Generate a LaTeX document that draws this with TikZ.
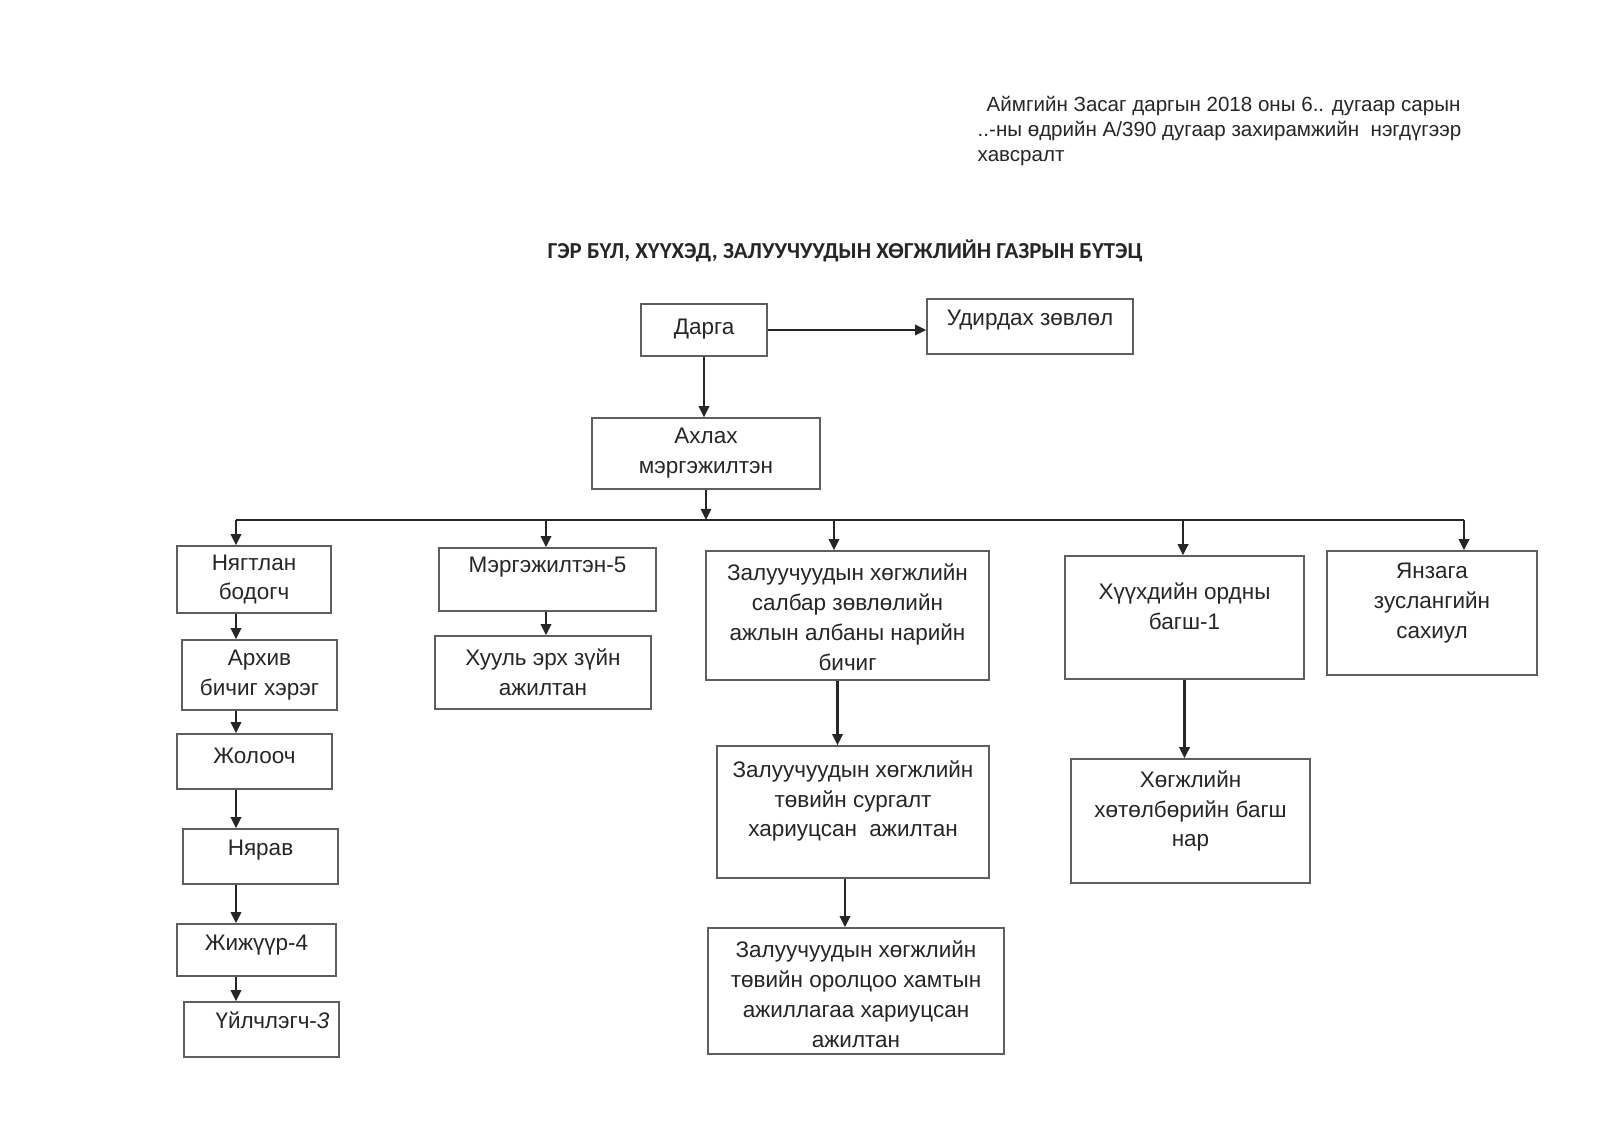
\documentclass[tikz,border=0pt]{standalone}
\usepackage{fontspec}
\setmainfont{Liberation Sans}
\newfontfamily\titlefont{Carlito}
\usepackage{xcolor}
\usetikzlibrary{arrows.meta}
\definecolor{inkgray}{HTML}{262626}
\definecolor{framegray}{HTML}{5E5E5E}
\tikzset{
    box/.style={draw=framegray, line width=0.4pt, inner sep=0pt},
    lbl/.style={align=center, text=inkgray, inner sep=0pt, font=\fontsize{6.4}{8.5}\selectfont},
    note/.style={text=inkgray, inner sep=0pt, font=\fontsize{5.85}{7.1}\selectfont},
    heading/.style={text=inkgray, inner sep=0pt, font=\titlefont\bfseries\fontsize{6.5}{7.5}\selectfont},
    link/.style={draw=inkgray, line width=0.6pt}
}

\begin{document}
\begin{tikzpicture}[>={Triangle[length=3.2pt,width=3pt]}]
    \useasboundingbox[fill=white] (0,0) rectangle (16,-11.44);

    % Header note
    \node[note, anchor=base west] (note1) at (9.86,-1.12) {Аймгийн Засаг даргын 2018 оны 6.. дугаар сарын};
    \node[note, anchor=base west] (note2) at (9.77,-1.37) {..-ны өдрийн А/390 дугаар захирамжийн\ \ нэгдүгээр};
    \node[note, anchor=base west] (note3) at (9.77,-1.62) {хавсралт};

    % Title
    \node[heading] (title) at (8.45,-2.51) {ГЭР БҮЛ, ХҮҮХЭД, ЗАЛУУЧУУДЫН ХӨГЖЛИЙН ГАЗРЫН БҮТЭЦ};

    % Top level
    \node[box, minimum width=1.26cm, minimum height=0.52cm] (darga) at (7.04,-3.30) {};
    \node[lbl, yshift=0.01cm] (dargat) at (darga) {Дарга};
    \node[box, minimum width=2.06cm, minimum height=0.55cm] (udirdah) at (10.30,-3.265) {};
    \node[lbl, yshift=0.06cm] (udirdaht) at (udirdah) {Удирдах зөвлөл};
    \node[box, minimum width=2.28cm, minimum height=0.71cm] (ahlah) at (7.06,-4.535) {};
    \node[lbl] (ahlaht) at (ahlah) {Ахлах\\мэргэжилтэн};

    % Left column
    \node[box, minimum width=1.54cm, minimum height=0.67cm] (nyagtlan) at (2.54,-5.795) {};
    \node[lbl] (nyagtlant) at (nyagtlan) {Нягтлан\\бодогч};
    \node[box, minimum width=1.55cm, minimum height=0.70cm] (arhiv) at (2.595,-6.75) {};
    \node[lbl] (arhivt) at (arhiv) {Архив\\бичиг хэрэг};
    \node[box, minimum width=1.55cm, minimum height=0.55cm] (joloo) at (2.545,-7.615) {};
    \node[lbl, yshift=0.06cm] (joloot) at (joloo) {Жолооч};
    \node[box, minimum width=1.55cm, minimum height=0.55cm] (nyarav) at (2.605,-8.565) {};
    \node[lbl, yshift=0.06cm] (nyaravt) at (nyarav) {Нярав};
    \node[box, minimum width=1.59cm, minimum height=0.52cm] (jijuur) at (2.565,-9.50) {};
    \node[lbl, yshift=0.05cm] (jijuurt) at (jijuur) {Жижүүр-4};
    \node[box, minimum width=1.55cm, minimum height=0.55cm] (uilchlegch) at (2.615,-10.295) {};
    \node[lbl, xshift=0.11cm, yshift=0.09cm] (uilchlegcht) at (uilchlegch) {Үйлчлэгч-\textit{3}};

    % Second column
    \node[box, minimum width=2.17cm, minimum height=0.63cm] (mergejilten) at (5.475,-5.795) {};
    \node[lbl, yshift=0.12cm] (mergejiltent) at (mergejilten) {Мэргэжилтэн-5};
    \node[box, minimum width=2.16cm, minimum height=0.73cm] (huuli) at (5.43,-6.725) {};
    \node[lbl] (huulit) at (huuli) {Хууль эрх зүйн\\ажилтан};

    % Youth column
    \node[box, minimum width=2.83cm, minimum height=1.29cm] (salbar) at (8.475,-6.155) {};
    \node[lbl, yshift=-0.02cm] (salbart) at (salbar) {Залуучуудын хөгжлийн\\салбар зөвлөлийн\\ажлын албаны нарийн\\бичиг};
    \node[box, minimum width=2.72cm, minimum height=1.32cm] (surgalt) at (8.53,-8.12) {};
    \node[lbl, yshift=0.11cm] (surgaltt) at (surgalt) {Залуучуудын хөгжлийн\\төвийн сургалт\\хариуцсан\ \ ажилтан};
    \node[box, minimum width=2.96cm, minimum height=1.26cm] (oroltsoo) at (8.56,-9.91) {};
    \node[lbl, yshift=-0.03cm] (oroltsoot) at (oroltsoo) {Залуучуудын хөгжлийн\\төвийн оролцоо хамтын\\ажиллагаа хариуцсан\\ажилтан};

    % Children column
    \node[box, minimum width=2.39cm, minimum height=1.23cm] (huuhed) at (11.845,-6.175) {};
    \node[lbl, yshift=0.11cm] (huuhedt) at (huuhed) {Хүүхдийн ордны\\багш-1};
    \node[box, minimum width=2.39cm, minimum height=1.24cm] (hogjil) at (11.905,-8.21) {};
    \node[lbl, yshift=0.10cm] (hogjilt) at (hogjil) {Хөгжлийн\\хөтөлбөрийн багш\\нар};

    % Camp column
    \node[box, minimum width=2.10cm, minimum height=1.24cm] (yanzaga) at (14.32,-6.13) {};
    \node[lbl, yshift=0.10cm] (yanzagat) at (yanzaga) {Янзага\\зуслангийн\\сахиул};

    % Arrows from the head
    \draw[link, ->] (darga.east) -- (darga.east -| udirdah.west);
    \draw[link, ->] (darga.south) -- (darga.south |- ahlah.north);

    % Bus and drops
    \foreach \x/\n in {2.36/nyagtlan, 5.46/mergejilten, 8.34/salbar, 11.83/huuhed, 14.64/yanzaga} {
        \coordinate (bus-\n) at (\x,-5.20);
        \draw[link, ->] (bus-\n) -- (bus-\n |- \n.north);
    }
    \draw[link] (bus-nyagtlan) -- (bus-yanzaga);
    \draw[link, ->] (ahlah.south) -- (ahlah.south |- bus-nyagtlan);

    % Chains below
    \foreach \a/\b in {nyagtlan/arhiv, arhiv/joloo, joloo/nyarav, nyarav/jijuur, jijuur/uilchlegch} {
        \draw[link, ->] (\a.south -| bus-nyagtlan) -- (\b.north -| bus-nyagtlan);
    }
    \draw[link, ->] (mergejilten.south -| bus-mergejilten) -- (huuli.north -| bus-mergejilten);
    \draw[link, ->] ([xshift=-1mm]salbar.south) -- ([xshift=-1mm]salbar.south |- surgalt.north);
    \draw[link, ->] ([xshift=-0.8mm]surgalt.south) -- ([xshift=-0.8mm]surgalt.south |- oroltsoo.north);
    \draw[link, ->] (huuhed.south) -- (huuhed.south |- hogjil.north);
\end{tikzpicture}
\end{document}
